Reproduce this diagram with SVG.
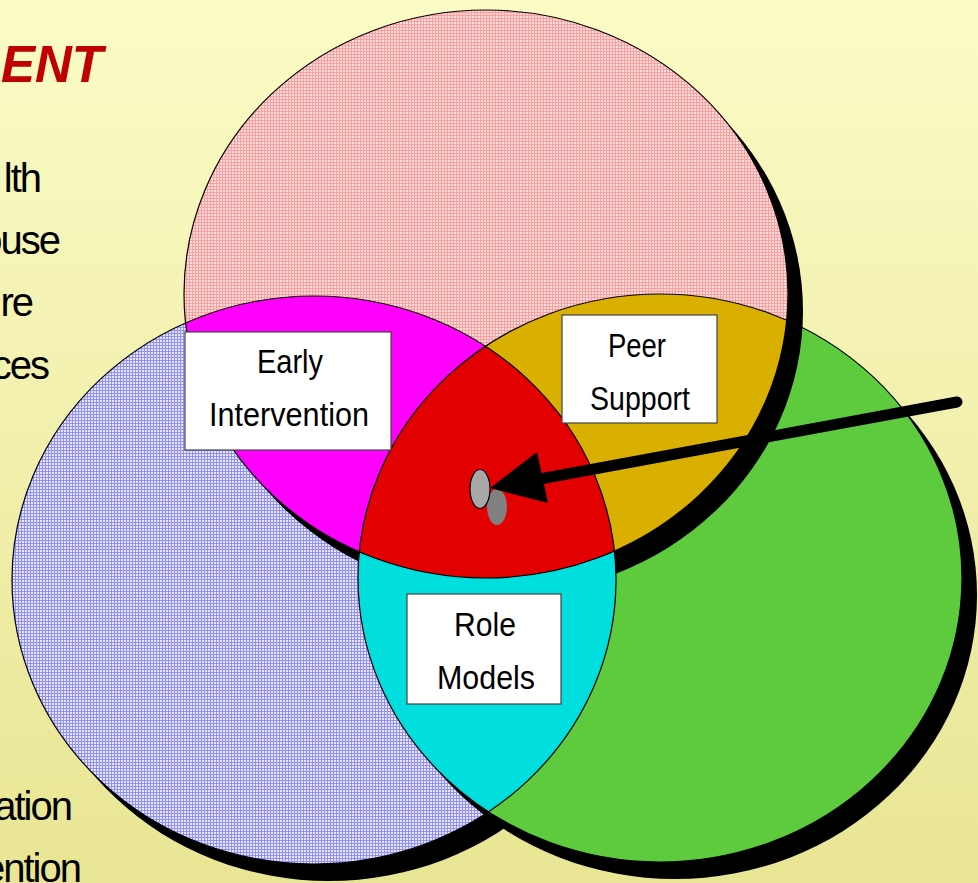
<svg xmlns="http://www.w3.org/2000/svg" width="978" height="883" viewBox="0 0 978 883">
<defs>
<linearGradient id="bg" x1="0" y1="0" x2="0" y2="1">
<stop offset="0" stop-color="#FBFBC6"/>
<stop offset="1" stop-color="#E8E594"/>
</linearGradient>
<pattern id="pinkPat" patternUnits="userSpaceOnUse" width="3" height="3">
<rect width="3" height="3" fill="#FFE0E0"/>
<rect width="3" height="1" fill="#FF9C9C"/>
<rect width="1" height="3" fill="#FF9C9C"/>
</pattern>
<pattern id="bluePat" patternUnits="userSpaceOnUse" width="3" height="3">
<rect width="3" height="3" fill="#E6E6FF"/>
<rect width="3" height="1" fill="#9090F8"/>
<rect width="1" height="3" fill="#9090F8"/>
</pattern>
<clipPath id="cpPink"><ellipse cx="486" cy="294" rx="302" ry="284"/></clipPath>
<clipPath id="cpGreen"><ellipse cx="660" cy="578" rx="302" ry="284"/></clipPath>
<clipPath id="cpPG" clip-path="url(#cpPink)"><ellipse cx="660" cy="578" rx="302" ry="284"/></clipPath>
<style>
.side{font-family:"Liberation Sans",Arial,sans-serif;font-size:40px;fill:#000;text-anchor:end;letter-spacing:-2px}
.lbl{font-family:"Liberation Sans",Arial,sans-serif;font-size:33px;fill:#000;text-anchor:middle}
.box{fill:#fff;stroke:#444;stroke-width:1.2}
.edge{fill:none;stroke:#000;stroke-width:1.2}
.ov{stroke:none}
</style>
</defs>
<rect width="978" height="883" fill="url(#bg)"/>
<g id="side-text">
<text x="103" y="82" style="font-family:'Liberation Sans',Arial,sans-serif;font-size:51px;font-weight:bold;font-style:italic;fill:#C00000;text-anchor:end">ENT</text>
<text class="side" x="40" y="192">lth</text>
<text class="side" x="59" y="254">ouse</text>
<text class="side" x="32" y="316">re</text>
<text class="side" x="48" y="379">ces</text>
<text class="side" x="71" y="820">ation</text>
<text class="side" x="80" y="882">ention</text>
</g>
<g id="circle-blue">
<ellipse cx="329" cy="597" rx="302" ry="284" fill="#000"/>
<ellipse cx="314" cy="580" rx="302" ry="284" fill="url(#bluePat)"/>
</g>
<g id="circle-green">
<ellipse cx="675" cy="595" rx="302" ry="284" fill="#000"/>
<ellipse cx="660" cy="578" rx="302" ry="284" fill="#5DCB3D"/>
</g>
<g id="circle-pink">
<ellipse cx="501" cy="311" rx="302" ry="284" fill="#000"/>
<ellipse cx="486" cy="294" rx="302" ry="284" fill="url(#pinkPat)"/>
</g>
<g id="overlaps">
<ellipse class="ov" cx="314" cy="580" rx="302" ry="284" fill="#FF00FF" clip-path="url(#cpPink)"/>
<ellipse class="ov" cx="660" cy="578" rx="302" ry="284" fill="#DAB000" clip-path="url(#cpPink)"/>
<ellipse class="ov" cx="314" cy="580" rx="302" ry="284" fill="#00DDDD" clip-path="url(#cpGreen)"/>
<ellipse class="ov" cx="314" cy="580" rx="302" ry="284" fill="#E20000" clip-path="url(#cpPG)"/>
</g>
<g id="outlines">
<ellipse class="edge" cx="314" cy="580" rx="302" ry="284"/>
<ellipse class="edge" cx="660" cy="578" rx="302" ry="284"/>
<ellipse class="edge" cx="486" cy="294" rx="302" ry="284"/>
</g>
<g id="label-early">
<rect class="box" x="185" y="332" width="206" height="118"/>
<text class="lbl" x="290" y="373" textLength="66" lengthAdjust="spacingAndGlyphs">Early</text>
<text class="lbl" x="289" y="426" textLength="160" lengthAdjust="spacingAndGlyphs">Intervention</text>
</g>
<g id="label-peer">
<rect class="box" x="562" y="315" width="155" height="108"/>
<text class="lbl" x="637" y="357" textLength="58" lengthAdjust="spacingAndGlyphs">Peer</text>
<text class="lbl" x="640" y="410" textLength="100" lengthAdjust="spacingAndGlyphs">Support</text>
</g>
<g id="label-role">
<rect class="box" x="407" y="594" width="154" height="110"/>
<text class="lbl" x="485" y="636" textLength="62" lengthAdjust="spacingAndGlyphs">Role</text>
<text class="lbl" x="486" y="689" textLength="98" lengthAdjust="spacingAndGlyphs">Models</text>
</g>
<g id="target">
<ellipse cx="497" cy="507" rx="10" ry="18" fill="#808080"/>
<ellipse cx="480" cy="489" rx="10" ry="19.5" fill="#A8A8A8" stroke="#000" stroke-width="1.2"/>
</g>
<g id="connectors">
<line x1="957" y1="402" x2="540" y2="479" stroke="#000" stroke-width="11" stroke-linecap="round"/>
<polygon points="490,488 537,452 548,503" fill="#000"/>
</g>
</svg>
